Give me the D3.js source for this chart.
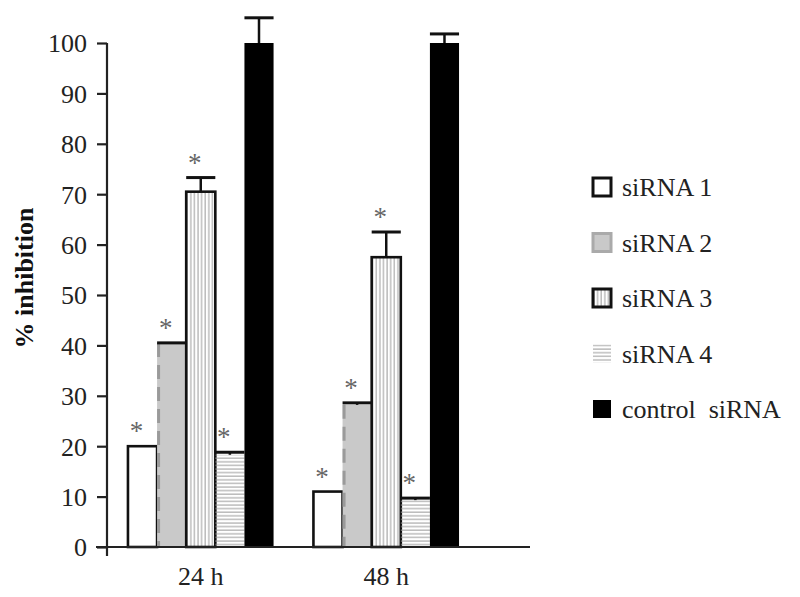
<!DOCTYPE html>
<meta charset="utf-8">
<head>
<style>
body { margin: 0; background: #fff; }
svg text { font-family: "Liberation Serif", "Times New Roman", "DejaVu Serif", serif !important; fill: #222; }
</style>
</head>
<body>
<svg width="800" height="597"></svg>
<script src="https://d3js.org/d3.v7.min.js"></script>
<script>

var groups = ["24 h", "48 h"];
var series = ["siRNA 1", "siRNA 2", "siRNA 3", "siRNA 4", "control  siRNA"];
var values24 = [20, 40.5, 70.5, 18.3, 100];
var errors24 = [0, 0, 2.8, 0.5, 5];
var values48 = [11, 28.2, 57.5, 9.3, 100];
var errors48 = [0, 0.4, 5, 0.4, 1.8];
var starred = [true, true, true, true, false];
var yTicks = [0, 10, 20, 30, 40, 50, 60, 70, 80, 90, 100];

var serif = "'Liberation Serif', 'Times New Roman', serif";
var svg = d3.select("svg");

var defs = svg.append("defs");
defs.append("pattern").attr("id", "vlines").attr("patternUnits", "userSpaceOnUse")
    .attr("width", 3.6).attr("height", 10)
  .append("line").attr("x1", 1).attr("x2", 1).attr("y1", 0).attr("y2", 10)
    .attr("stroke", "#9a9a9a").attr("stroke-width", 1);
defs.append("pattern").attr("id", "hlines").attr("patternUnits", "userSpaceOnUse")
    .attr("width", 10).attr("height", 3.6)
  .append("line").attr("x1", 0).attr("x2", 10).attr("y1", 1).attr("y2", 1)
    .attr("stroke", "#9a9a9a").attr("stroke-width", 1);

var y = d3.scaleLinear().domain([0, 100]).range([547, 43]);
var x0 = d3.scaleBand().domain(groups).range([107, 480]).paddingInner(0.215).paddingOuter(0.113);
var x1 = d3.scaleBand().domain(series).range([0, x0.bandwidth()]);

var data = [];
groups.forEach(function(g, gi) {
  var vals = gi === 0 ? values24 : values48;
  var errs = gi === 0 ? errors24 : errors48;
  series.forEach(function(s, si) {
    data.push({group: g, series: s, idx: si, value: vals[si], err: errs[si], star: starred[si]});
  });
});

var fills = ["#fff", "#c9c9c9", "url(#vlines)", "url(#hlines)", "#000"];

var bars = svg.append("g").selectAll("g")
  .data(data).enter().append("g")
    .attr("transform", function(d) { return "translate(" + (x0(d.group) + x1(d.series)) + ",0)"; });

bars.append("rect")
    .attr("x", 0)
    .attr("y", function(d) { return y(d.value); })
    .attr("width", x1.bandwidth())
    .attr("height", function(d) { return y(0) - y(d.value); })
    .attr("fill", function(d) { return fills[d.idx]; })
    .attr("stroke", function(d) { return (d.idx === 0 || d.idx === 2) ? "#111" : "none"; })
    .attr("stroke-width", 2.6);

// dashed left edge of siRNA 2
bars.filter(function(d) { return d.idx === 1; }).append("line")
    .attr("x1", 1.5).attr("x2", 1.5)
    .attr("y1", function(d) { return y(d.value); })
    .attr("y2", y(0))
    .attr("stroke", "#9a9a9a").attr("stroke-width", 3)
    .attr("stroke-dasharray", "14,8");

// error bars
var eb = bars.filter(function(d) { return d.idx !== 0; });
eb.append("line")
    .attr("x1", x1.bandwidth() / 2).attr("x2", x1.bandwidth() / 2)
    .attr("y1", function(d) { return y(d.value); })
    .attr("y2", function(d) { return y(d.value + d.err); })
    .attr("stroke", "#111").attr("stroke-width", 2.5);
eb.append("line")
    .attr("x1", 0)
    .attr("x2", x1.bandwidth())
    .attr("y1", function(d) { return y(d.value + d.err); })
    .attr("y2", function(d) { return y(d.value + d.err); })
    .attr("stroke", "#111").attr("stroke-width", 3);

// asterisks
bars.filter(function(d) { return d.star; }).append("text")
    .attr("x", x1.bandwidth() / 2 - 6)
    .attr("y", function(d) { return y(d.value + d.err) - 6; })
    .attr("text-anchor", "middle")
    .style("font-family", serif)
    .style("font-size", "27px")
    .style("fill", "#666")
    .text("*");

// y axis
var yAxis = svg.append("g")
    .attr("transform", "translate(107,0)")
    .call(d3.axisLeft(y).tickValues(yTicks).tickSize(10).tickSizeOuter(0).tickPadding(10));
yAxis.select(".domain").remove();
yAxis.selectAll(".tick line").attr("stroke", "#222").attr("stroke-width", 2.2);
yAxis.selectAll("text").style("font-family", serif).style("font-size", "26px").attr("dy", "0.34em");
svg.append("line").attr("x1", 107).attr("x2", 107).attr("y1", 43).attr("y2", 556)
    .attr("stroke", "#222").attr("stroke-width", 2.2);

// x axis
svg.append("line").attr("x1", 96).attr("x2", 530).attr("y1", y(0)).attr("y2", y(0))
    .attr("stroke", "#222").attr("stroke-width", 2.2);
svg.append("g").selectAll("text").data(groups).enter().append("text")
    .attr("x", function(d) { return x0(d) + x0.bandwidth() / 2; })
    .attr("y", 585)
    .attr("text-anchor", "middle")
    .style("font-family", serif)
    .style("font-size", "26px")
    .text(function(d) { return d; });

svg.append("text")
    .attr("transform", "translate(33,278) rotate(-90)")
    .attr("text-anchor", "middle")
    .style("font-family", serif)
    .style("font-size", "26px")
    .style("font-weight", "bold")
    .style("fill", "#111")
    .text("% inhibition");

// legend
var legend = svg.append("g").selectAll("g")
  .data(series).enter().append("g")
    .attr("transform", function(d, i) { return "translate(593," + (178 + i * 55.5) + ")"; });
legend.append("rect")
    .attr("x", 0).attr("y", 0).attr("width", 18).attr("height", 18)
    .attr("fill", function(d, i) { return fills[i]; })
    .attr("stroke", function(d, i) { return i === 1 ? "#aaa" : (i === 3 ? "none" : "#111"); })
    .attr("stroke-width", function(d, i) { return i === 4 ? 0 : 3; });
legend.append("text")
    .attr("x", 29).attr("y", 18)
    .style("font-family", serif)
    .style("font-size", "26px")
    .style("white-space", "pre")
    .text(function(d) { return d; });

</script>
</body>
</html>
